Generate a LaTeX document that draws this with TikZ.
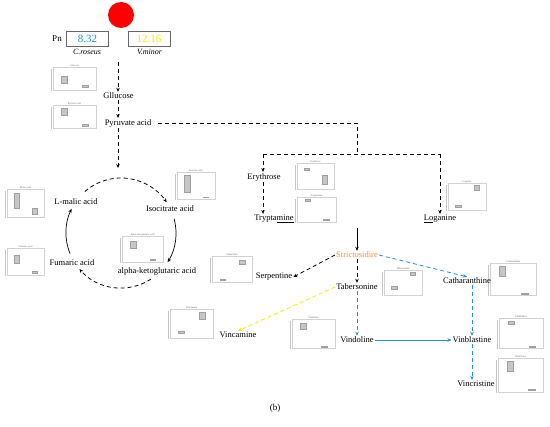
\documentclass[tikz,border=0pt]{standalone}
\usepackage{fontspec}
\setmainfont{Liberation Serif}
\usetikzlibrary{arrows.meta,calc}
\definecolor{cblue}{RGB}{30,144,230}
\definecolor{cyell}{RGB}{250,235,0}
\definecolor{corange}{RGB}{245,140,60}
\tikzset{
  lbl/.style={font=\fontsize{8.5}{10}\selectfont, inner sep=1pt},
  tip/.style={-{Stealth[length=4pt,width=3.5pt]}},
  dasharr/.style={draw, line width=0.8pt, dash pattern=on 4pt off 3pt, tip},
  dashline/.style={draw, line width=0.8pt, dash pattern=on 4pt off 3pt},
  solarr/.style={draw, line width=0.7pt, tip},
  thumbframe/.style={draw=gray!35, line width=0.3pt, fill=white},
  thumbtitle/.style={font=\fontsize{2.6}{3}\selectfont, inner sep=0.3pt, text=gray!80!black},
  thumbbar/.style={draw=gray!75, fill=gray!45, line width=0.3pt},
  valbox/.style={draw=gray!80!black, line width=0.9pt, minimum width=42pt, minimum height=15pt, inner sep=0pt, font=\fontsize{11}{12}\selectfont},
}
% #1 x left, #2 y top (pixels), #3 w, #4 h, #5 title, #6 #7 left bar lo/hi, #8 #9 right bar lo/hi
\newcommand\thumbplot[9]{%
  \begin{scope}[shift={(#1,427-#2-#4)}]
    \draw[thumbframe] (0,0) rectangle (#3,#4);
    \draw[gray!45, line width=0.3pt] (-1.5,0) -- (-1.5,#4-2);
    \foreach \k in {0,...,5}{\draw[gray!45, line width=0.2pt] (-2.5,{\k*(#4-2)/5}) -- (-1.5,{\k*(#4-2)/5});}
    \node[thumbtitle, anchor=south] (tt#1x#2) at (#3/2,#4-0.2) {#5};
    \draw[thumbbar] (0.2*#3, #6*#4) rectangle (0.34*#3, #7*#4);
    \draw[thumbbar] (0.68*#3, #8*#4) rectangle (0.82*#3, #9*#4);
  \end{scope}}
\begin{document}
\begin{tikzpicture}[x=1pt,y=1pt]
\useasboundingbox (0,0) rectangle (550,427);
\fill[white] (0,0) rectangle (550,427);

% header
\fill[red] (121,412) circle (13);
\node[font=\fontsize{9}{10}\selectfont] (pn) at (57,388) {Pn};
\node[valbox, text=cblue] (b1) at (87.5,388) {8.32};
\node[valbox, text=cyell] (b2) at (149,388) {12.16};
\node[font=\fontsize{8}{9}\selectfont\itshape] (cr) at (87,375) {C.roseus};
\node[font=\fontsize{8}{9}\selectfont\itshape] (vm) at (149.5,375) {V.minor};

% thumbnails
\thumbplot{53}{67}{43}{23}{Glucose}{0.3}{0.6}{0.12}{0.22}
\thumbplot{53}{105}{43}{23}{Pyruvic acid}{0.55}{0.85}{0.1}{0.16}
\thumbplot{7}{189}{37}{28}{Malic acid}{0.3}{0.85}{0.1}{0.3}
\thumbplot{7}{248}{37}{27}{Fumaric acid}{0.45}{0.75}{0.08}{0.13}
\thumbplot{177}{172}{38}{27}{Isocitric acid}{0.25}{0.9}{0.05}{0.08}
\thumbplot{122}{236}{41}{26}{alpha-ketoglutaric acid}{0.55}{0.8}{0.08}{0.12}
\thumbplot{297}{163}{37}{26}{Erythrose}{0.72}{0.8}{0.2}{0.55}
\thumbplot{297}{197}{39}{25}{Tryptamine}{0.85}{0.93}{0.08}{0.12}
\thumbplot{448}{183}{38}{27}{Loganin}{0.12}{0.17}{0.75}{0.93}
\thumbplot{212}{256}{40}{26}{Serpentine}{0.08}{0.12}{0.7}{0.85}
\thumbplot{384}{270}{38}{25}{Tabersonine}{0.22}{0.35}{0.8}{0.9}
\thumbplot{490}{263}{46}{32}{Catharanthine}{0.6}{0.9}{0.04}{0.07}
\thumbplot{170}{309}{43}{29}{Vincamine}{0.18}{0.22}{0.65}{0.9}
\thumbplot{292}{319}{43}{29}{Vindoline}{0.65}{0.85}{0.04}{0.07}
\thumbplot{499}{318}{44}{30}{Vinblastine}{0.8}{0.9}{0.04}{0.07}
\thumbplot{498}{358}{45}{34}{Vincristine}{0.6}{0.9}{0.04}{0.07}

% metabolite labels
\node[lbl] (glu) at (118.5,331) {Gllucose};
\node[lbl] (pyr) at (128,304) {Pyruvate acid};
\node[lbl] (mal) at (76,225) {L-malic acid};
\node[lbl] (iso) at (170,218) {Isocitrate acid};
\node[lbl] (akg) at (157,156) {alpha-ketoglutaric acid};
\node[lbl] (fum) at (72,164) {Fumaric acid};
\node[lbl] (ery) at (264,250) {Erythrose};
\node[lbl] (try) at (274,208) {Trypta\underline{mine}};
\node[lbl] (log) at (440,208) {\underline{Lo}ganine};
\node[lbl, text=corange] (str) at (357,172) {Strictosidire};
\node[lbl] (ser) at (274,150) {Serpentine};
\node[lbl] (tab) at (357,140) {Tabersonine};
\node[lbl] (cat) at (467,146) {Catharanthine};
\node[lbl] (vca) at (238,92) {Vincamine};
\node[lbl] (vdo) at (357,87) {Vindoline};
\node[lbl] (vbl) at (472,87) {Vinblastine};
\node[lbl] (vcr) at (476,43) {Vincristine};
\node[font=\fontsize{9}{10}\selectfont] (cap) at (275,19) {(b)};

% coordinates
\coordinate (top) at (118,365);
\coordinate (cyc) at (118,259);
\coordinate (j0) at (357,304);
\coordinate (j1) at (357,273);
\coordinate (jl) at (263,273);
\coordinate (jr) at (440,273);
\coordinate (sfrom) at (357,199);
\coordinate (C) at (121,194);

% upper pathway
\draw[dasharr] (top) -- (top |- glu.north);
\draw[dasharr] (glu.south -| top) -- (top |- pyr.north);
\draw[dasharr] (pyr.south -| top) -- (cyc);
\draw[dashline] (pyr.east) ++(6,0) -- (j0) -- (j1);
\draw[dashline] (jl) -- (jr);
\draw[dasharr] (jl) -- (jl |- ery.north);
\draw[dasharr] (jr) -- (log.north);
\draw[dasharr] (ery.south -| jl) -- (jl |- try.north);
\draw[solarr] (sfrom) -- (str.north);

% TCA cycle
\draw[dasharr] ($(C)+(131:55)$) arc[start angle=131, end angle=34, radius=55];
\draw[solarr] ($(C)+(15:55)$) arc[start angle=15, end angle=-32, radius=55];
\draw[dasharr] ($(C)+(-57:55)$) arc[start angle=-57, end angle=-139, radius=55];
\draw[solarr] ($(C)+(202:55)$) arc[start angle=202, end angle=154, radius=55];

% alkaloid pathway
\draw[dasharr] (str.west) -- (ser.east);
\draw[dasharr] (str.south) -- (tab.north);
\draw[dasharr, cblue] (str.east) -- (cat.north);
\draw[dasharr, cyell] (tab.west) -- (vca.north);
\draw[dasharr, cblue] (tab.south) -- (vdo.north);
\draw[solarr, cblue] (vdo.east) -- (vbl.west);
\draw[dasharr, cblue] (vbl.north |- cat.south) -- (vbl.north);
\draw[dasharr, cblue] (vbl.south) -- (vbl.south |- vcr.north);
\end{tikzpicture}
\end{document}
